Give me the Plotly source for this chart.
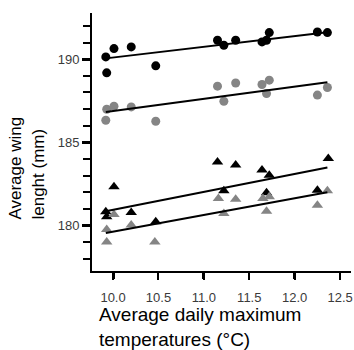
import plotly.graph_objects as go

# ---- data ----
bc_x = [9.92, 9.93, 10.01, 10.20, 10.47, 11.15, 11.22, 11.35, 11.64, 11.69, 11.72, 12.25, 12.36]
bc_y = [190.14, 189.18, 190.64, 190.74, 189.60, 191.14, 190.84, 191.14, 191.04, 191.14, 191.60, 191.64, 191.60]

gc_x = [9.92, 9.93, 10.01, 10.20, 10.47, 11.15, 11.22, 11.35, 11.64, 11.69, 11.72, 12.25, 12.36]
gc_y = [186.33, 186.99, 187.17, 187.13, 186.27, 188.38, 187.47, 188.57, 188.48, 187.94, 188.74, 187.84, 188.30]

bt_x = [9.92, 9.93, 10.01, 10.20, 10.47, 11.15, 11.22, 11.35, 11.64, 11.69, 11.72, 12.25, 12.37]
bt_y = [180.82, 180.52, 182.33, 180.78, 180.22, 183.82, 182.08, 183.63, 183.33, 181.96, 183.02, 182.12, 184.03]

gt_x = [9.93, 9.93, 10.01, 10.20, 10.46, 11.16, 11.22, 11.35, 11.65, 11.69, 11.72, 12.25, 12.36]
gt_y = [179.01, 179.76, 180.66, 180.02, 179.01, 181.62, 180.72, 181.58, 181.62, 180.86, 181.73, 181.22, 182.08]

# regression line end points
fit_x = [9.92, 12.36]
bc_fit = [190.05, 191.62]
gc_fit = [186.82, 188.62]
bt_fit = [180.85, 183.48]
gt_fit = [179.55, 182.00]

x_ticks = [10.0, 10.5, 11.0, 11.5, 12.0, 12.5]
x_ticktext = ["10.0", "10.5", "11.0", "11.5", "12.0", "12.5"]
x_major = [10, 11, 12]

x_title = "Average daily maximum<br>temperatures (°C)"
y_title = "Average wing<br>lenght (mm)"

BLACK = "#000000"
GRAY = "#858585"
FONT = "Liberation Sans, Arial, sans-serif"

fig = go.Figure()

fig.add_trace(go.Scatter(x=bc_x, y=bc_y, mode="markers",
                         marker=dict(symbol="circle", size=9, color=BLACK), showlegend=False))
fig.add_trace(go.Scatter(x=gc_x, y=gc_y, mode="markers",
                         marker=dict(symbol="circle", size=9, color=GRAY), showlegend=False))
fig.add_trace(go.Scatter(x=bt_x, y=bt_y, mode="markers",
                         marker=dict(symbol="triangle-up", size=10, color=BLACK), showlegend=False))
fig.add_trace(go.Scatter(x=gt_x, y=gt_y, mode="markers",
                         marker=dict(symbol="triangle-up", size=10, color=GRAY), showlegend=False))

for fy in (bc_fit, gc_fit, bt_fit, gt_fit):
    fig.add_trace(go.Scatter(x=fit_x, y=fy, mode="lines",
                             line=dict(color=BLACK, width=2), showlegend=False))

# helper trace for the thick integer ticks on the x axis
fig.add_trace(go.Scatter(x=[None], y=[None], xaxis="x2", mode="markers",
                         showlegend=False, hoverinfo="skip"))

XR = [9.768, 12.62]
YR = [177.26, 192.78]

fig.update_layout(
    width=354, height=350,
    margin=dict(l=92, r=3, t=13, b=79, autoexpand=False),
    paper_bgcolor="white", plot_bgcolor="white",
    font=dict(family=FONT, color="#3a3a3a", size=13),
    xaxis=dict(range=XR, showgrid=False, zeroline=False, automargin=False,
               showline=True, linecolor=BLACK, linewidth=2,
               tickmode="array", tickvals=x_ticks, ticktext=x_ticktext,
               ticks="outside", ticklen=7, tickwidth=1.5, tickcolor=BLACK,
               tickfont=dict(size=13, color="#3a3a3a"), ticklabelstandoff=6),
    xaxis2=dict(range=XR, overlaying="x", anchor="y", side="bottom",
                showgrid=False, zeroline=False, showline=False, automargin=False,
                tickmode="array", tickvals=x_major, showticklabels=False,
                ticks="outside", ticklen=7, tickwidth=3, tickcolor=BLACK),
    yaxis=dict(range=YR, showgrid=False, zeroline=False, automargin=False,
               showline=True, linecolor=BLACK, linewidth=2,
               tickmode="linear", tick0=180, dtick=5,
               ticks="outside", ticklen=8, tickwidth=3, tickcolor=BLACK,
               tickfont=dict(size=13, color="#3a3a3a"),
               minor=dict(dtick=1, tick0=180, ticks="outside", ticklen=7,
                          tickwidth=1.5, tickcolor=BLACK, showgrid=False)),
    annotations=[
        dict(text=x_title, xref="paper", yref="paper", x=0.02, y=-0.119,
             xanchor="left", yanchor="top", align="left", showarrow=False,
             font=dict(family=FONT, size=19, color=BLACK)),
        dict(text=y_title, xref="paper", yref="paper", x=-0.251, y=0.401,
             xanchor="center", yanchor="middle", align="left", textangle=-90,
             showarrow=False, font=dict(family=FONT, size=17, color=BLACK)),
    ],
)

fig.write_html(
    "out.html",
    config={"displayModeBar": False},
    post_script="document.body.style.margin='0';document.body.style.padding='0';"
                "document.body.style.overflow='hidden';",
)
